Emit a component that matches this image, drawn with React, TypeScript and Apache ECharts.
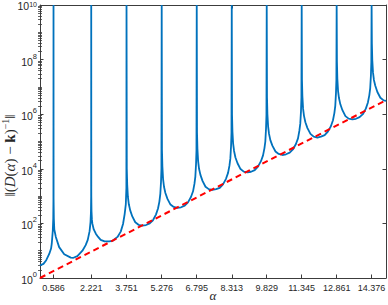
import React, { useEffect, useRef } from "react";
import * as echarts from "echarts";

// x tick labels (alpha values of the poles)
const xTicks = [0.586, 2.221, 3.751, 5.276, 6.795, 8.313, 9.829, 11.345, 12.861, 14.376];
// y tick labels (powers of ten)
const yMajor = [1, 1e2, 1e4, 1e6, 1e8, 1e10];
const minorMult = [2, 3, 4, 5, 6, 7, 8, 9];
const decadeStarts = [1, 1e1, 1e2, 1e3, 1e4, 1e5, 1e6, 1e7, 1e8, 1e9];
const oddDecades = [1e1, 1e3, 1e5, 1e7, 1e9];

// pole positions and the top value the curve reaches there
const poles = xTicks;
const poleTop = 1e10;

// blue curve, read segment by segment: [alpha, norm]
const seg0 = [[0, 2.9], [0.15, 3.3], [0.27, 4.5], [0.4, 7.6], [0.48, 12], [0.51, 18], [0.555, 55], [0.575, 150], [0.583, 800]];
const seg1 = [[0.589, 800], [0.6, 150], [0.62, 60], [0.686, 32], [0.83, 13.5], [1.05, 7.4], [1.335, 5.6], [1.45, 5.5], [1.62, 6.3], [1.84, 10], [1.98, 16], [2.07, 25], [2.15, 52], [2.19, 112], [2.208, 250], [2.218, 1000]];
const seg2 = [[2.224, 1000], [2.233, 280], [2.25, 140], [2.27, 98], [2.33, 60], [2.42, 42], [2.52, 32], [2.63, 25], [2.8, 22], [3.0, 22], [3.15, 23], [3.36, 32], [3.5, 50], [3.6, 95], [3.67, 220], [3.72, 500], [3.745, 2000]];
const seg3 = [[3.763, 1.0e4], [3.781, 2.6e3], [3.811, 930], [3.851, 500], [3.911, 300], [4.001, 180], [4.131, 110], [4.271, 89], [4.431, 83], [4.596, 87], [4.756, 100], [4.896, 130], [5.026, 210], [5.116, 350], [5.176, 630], [5.216, 1.2e3], [5.246, 3.3e3], [5.264, 1.0e4]];
const seg4 = [[5.288, 4.7e4], [5.306, 1.2e4], [5.336, 4.2e3], [5.376, 2.2e3], [5.436, 1.3e3], [5.526, 790], [5.656, 490], [5.796, 400], [5.956, 370], [6.115, 390], [6.275, 450], [6.415, 590], [6.545, 930], [6.635, 1.5e3], [6.695, 2.8e3], [6.735, 5.2e3], [6.765, 1.5e4], [6.783, 4.7e4]];
const seg5 = [[6.807, 2.1e5], [6.825, 5.4e4], [6.855, 1.9e4], [6.895, 1.0e4], [6.955, 6.0e3], [7.045, 3.6e3], [7.175, 2.2e3], [7.315, 1.8e3], [7.475, 1.7e3], [7.633, 1.8e3], [7.793, 2.0e3], [7.933, 2.7e3], [8.063, 4.3e3], [8.153, 7.1e3], [8.213, 1.3e4], [8.253, 2.4e4], [8.283, 6.8e4], [8.301, 2.1e5]];
const seg6 = [[8.325, 9.3e5], [8.343, 2.3e5], [8.373, 8.3e4], [8.413, 4.5e4], [8.473, 2.6e4], [8.563, 1.6e4], [8.693, 9.8e3], [8.833, 7.9e3], [8.993, 7.4e3], [9.149, 7.8e3], [9.309, 8.9e3], [9.449, 1.2e4], [9.579, 1.9e4], [9.669, 3.1e4], [9.729, 5.6e4], [9.769, 1.0e5], [9.799, 3.0e5], [9.817, 9.3e5]];
const seg7 = [[9.841, 4.1e6], [9.859, 1.0e6], [9.889, 3.6e5], [9.929, 1.9e5], [9.989, 1.1e5], [10.079, 6.9e4], [10.209, 4.3e4], [10.349, 3.5e4], [10.509, 3.2e4], [10.665, 3.4e4], [10.825, 3.9e4], [10.965, 5.1e4], [11.095, 8.1e4], [11.185, 1.3e5], [11.245, 2.5e5], [11.285, 4.6e5], [11.315, 1.3e6], [11.333, 4.1e6]];
const seg8 = [[11.357, 1.8e7], [11.375, 4.6e6], [11.405, 1.6e6], [11.445, 8.7e5], [11.505, 5.1e5], [11.595, 3.1e5], [11.725, 1.9e5], [11.865, 1.5e5], [12.025, 1.4e5], [12.181, 1.5e5], [12.341, 1.7e5], [12.481, 2.3e5], [12.611, 3.6e5], [12.701, 6.0e5], [12.761, 1.1e6], [12.801, 2.0e6], [12.831, 5.8e6], [12.849, 1.8e7]];
const seg9 = [[12.873, 8.1e7], [12.891, 2.0e7], [12.921, 7.2e6], [12.961, 3.9e6], [13.021, 2.3e6], [13.111, 1.4e6], [13.241, 8.5e5], [13.381, 6.9e5], [13.541, 6.5e5], [13.696, 6.8e5], [13.856, 7.8e5], [13.996, 1.0e6], [14.126, 1.6e6], [14.216, 2.7e6], [14.276, 4.9e6], [14.316, 9.1e6], [14.346, 2.6e7], [14.364, 8.1e7]];
const seg10 = [[14.388, 3.8e8], [14.406, 9.5e7], [14.436, 3.4e7], [14.476, 1.8e7], [14.536, 1.1e7], [14.626, 6.5e6], [14.756, 4.0e6], [14.896, 3.2e6], [15.0, 3.1e6]];
const segments = [seg0, seg1, seg2, seg3, seg4, seg5, seg6, seg7, seg8, seg9, seg10];

// red dashed line: e^alpha, end points
const redLine = [[0, 1], [15, 3.27e6]];

const AXIS = "#3c3c3c";
const TEXT = "#262626";
const SANS = "Liberation Sans";
const SERIF = "Liberation Serif";

export default function App() {
  const ref = useRef<HTMLDivElement>(null);
  useEffect(() => {
    const chart = echarts.init(ref.current!, null, { renderer: "svg" });
    const blue: number[][] = [];
    segments.forEach((seg, i) => {
      blue.push(...seg);
      if (i < poles.length) blue.push([poles[i], poleTop]);
    });
    const minorVals: number[] = [];
    decadeStarts.forEach((d) => minorMult.forEach((m) => minorVals.push(m * d)));
    oddDecades.forEach((d) => minorVals.push(d));

    const logBase = {
      type: "log",
      logBase: 10,
      min: 1,
      max: 1e10,
      splitLine: { show: false },
      minorTick: { show: false },
    };
    const xBase = { type: "value", min: 0, max: 15, splitLine: { show: false } };

    chart.setOption({
      animation: false,
      grid: { left: 40, right: 2, top: 5, bottom: 27, containLabel: false, outerBoundsMode: "none" },
      xAxis: [
        {
          ...xBase,
          position: "bottom",
          axisLine: { show: true, onZero: false, lineStyle: { color: AXIS, width: 1 } },
          axisTick: { show: true, inside: true, length: 3.5, customValues: xTicks, lineStyle: { color: AXIS } },
          axisLabel: {
            customValues: xTicks,
            formatter: (v: number) => v.toFixed(3),
            margin: 5.5,
            fontSize: 9,
            color: TEXT,
            fontFamily: SANS,
          },
          name: "α",
          nameLocation: "middle",
          nameGap: 11,
          nameMoveOverlap: false,
          nameTextStyle: { fontFamily: SERIF, fontStyle: "italic", fontSize: 13, lineHeight: 13, color: TEXT },
        },
        {
          ...xBase,
          position: "top",
          axisLine: { show: true, onZero: false, lineStyle: { color: AXIS, width: 1 } },
          axisTick: { show: true, inside: true, length: 3.5, customValues: xTicks, lineStyle: { color: AXIS } },
          axisLabel: { show: false },
        },
      ],
      yAxis: [
        {
          ...logBase,
          position: "left",
          axisLine: { show: true, onZero: false, lineStyle: { color: AXIS, width: 1 } },
          axisTick: { show: true, inside: true, length: 3.5, customValues: yMajor, lineStyle: { color: AXIS } },
          axisLabel: {
            customValues: yMajor,
            margin: 3,
            formatter: (v: number) => {
              const e = Math.round(Math.log10(v));
              return e === 10 ? `{bt|10}{st|${e}}` : `{b|10}{s|${e}}`;
            },
            rich: {
              b: { fontSize: 10.5, lineHeight: 9, color: TEXT, fontFamily: SANS, padding: [4, 0, 0, 0] },
              s: { fontSize: 7.5, lineHeight: 6, color: TEXT, fontFamily: SANS, padding: [0, 0, 7, 0] },
              bt: { fontSize: 10.5, lineHeight: 8, color: TEXT, fontFamily: SANS, padding: [2, 0, 0, 0] },
              st: { fontSize: 7, lineHeight: 5, color: TEXT, fontFamily: SANS, padding: [2, 0, 3, 0] },
            },
          },
          name: "{n|‖(}{i|D}{n|(}{i|α}{n|) − }{b|k}{n|)}{s|−1}{n|‖}",
          nameLocation: "middle",
          nameGap: 21,
          nameMoveOverlap: false,
          nameTextStyle: {
            padding: [0, 28, 0, 0],
            rich: {
              n: { fontFamily: SERIF, fontSize: 15, color: TEXT },
              i: { fontFamily: SERIF, fontStyle: "italic", fontSize: 15, color: TEXT },
              b: { fontFamily: SERIF, fontWeight: "bold", fontSize: 15, color: TEXT },
              s: { fontFamily: SERIF, fontSize: 10, color: TEXT, padding: [0, 0, 9, 0] },
            },
          },
        },
        {
          ...logBase,
          position: "left",
          axisLine: { show: false },
          axisTick: { show: true, inside: true, length: 2, customValues: minorVals, lineStyle: { color: AXIS, width: 0.8 } },
          axisLabel: { show: false },
        },
        {
          ...logBase,
          position: "right",
          axisLine: { show: true, onZero: false, lineStyle: { color: AXIS, width: 1 } },
          axisTick: { show: true, inside: true, length: 3.5, customValues: yMajor, lineStyle: { color: AXIS } },
          axisLabel: { show: false },
        },
        {
          ...logBase,
          position: "right",
          axisLine: { show: false },
          axisTick: { show: true, inside: true, length: 2, customValues: minorVals, lineStyle: { color: AXIS, width: 0.8 } },
          axisLabel: { show: false },
        },
      ],
      series: [
        {
          type: "line",
          data: blue,
          xAxisIndex: 0,
          yAxisIndex: 0,
          symbol: "none",
          clip: true,
          lineStyle: { color: "#0072BD", width: 1.8 },
        },
        {
          type: "line",
          data: redLine,
          xAxisIndex: 0,
          yAxisIndex: 0,
          symbol: "none",
          clip: true,
          lineStyle: { color: "#FF0000", width: 2, type: [6, 4] },
        },
      ],
    });
    return () => chart.dispose();
  }, []);
  return <div ref={ref} style={{ position: "absolute", left: 0, top: 0, width: 388, height: 305 }} />;
}
